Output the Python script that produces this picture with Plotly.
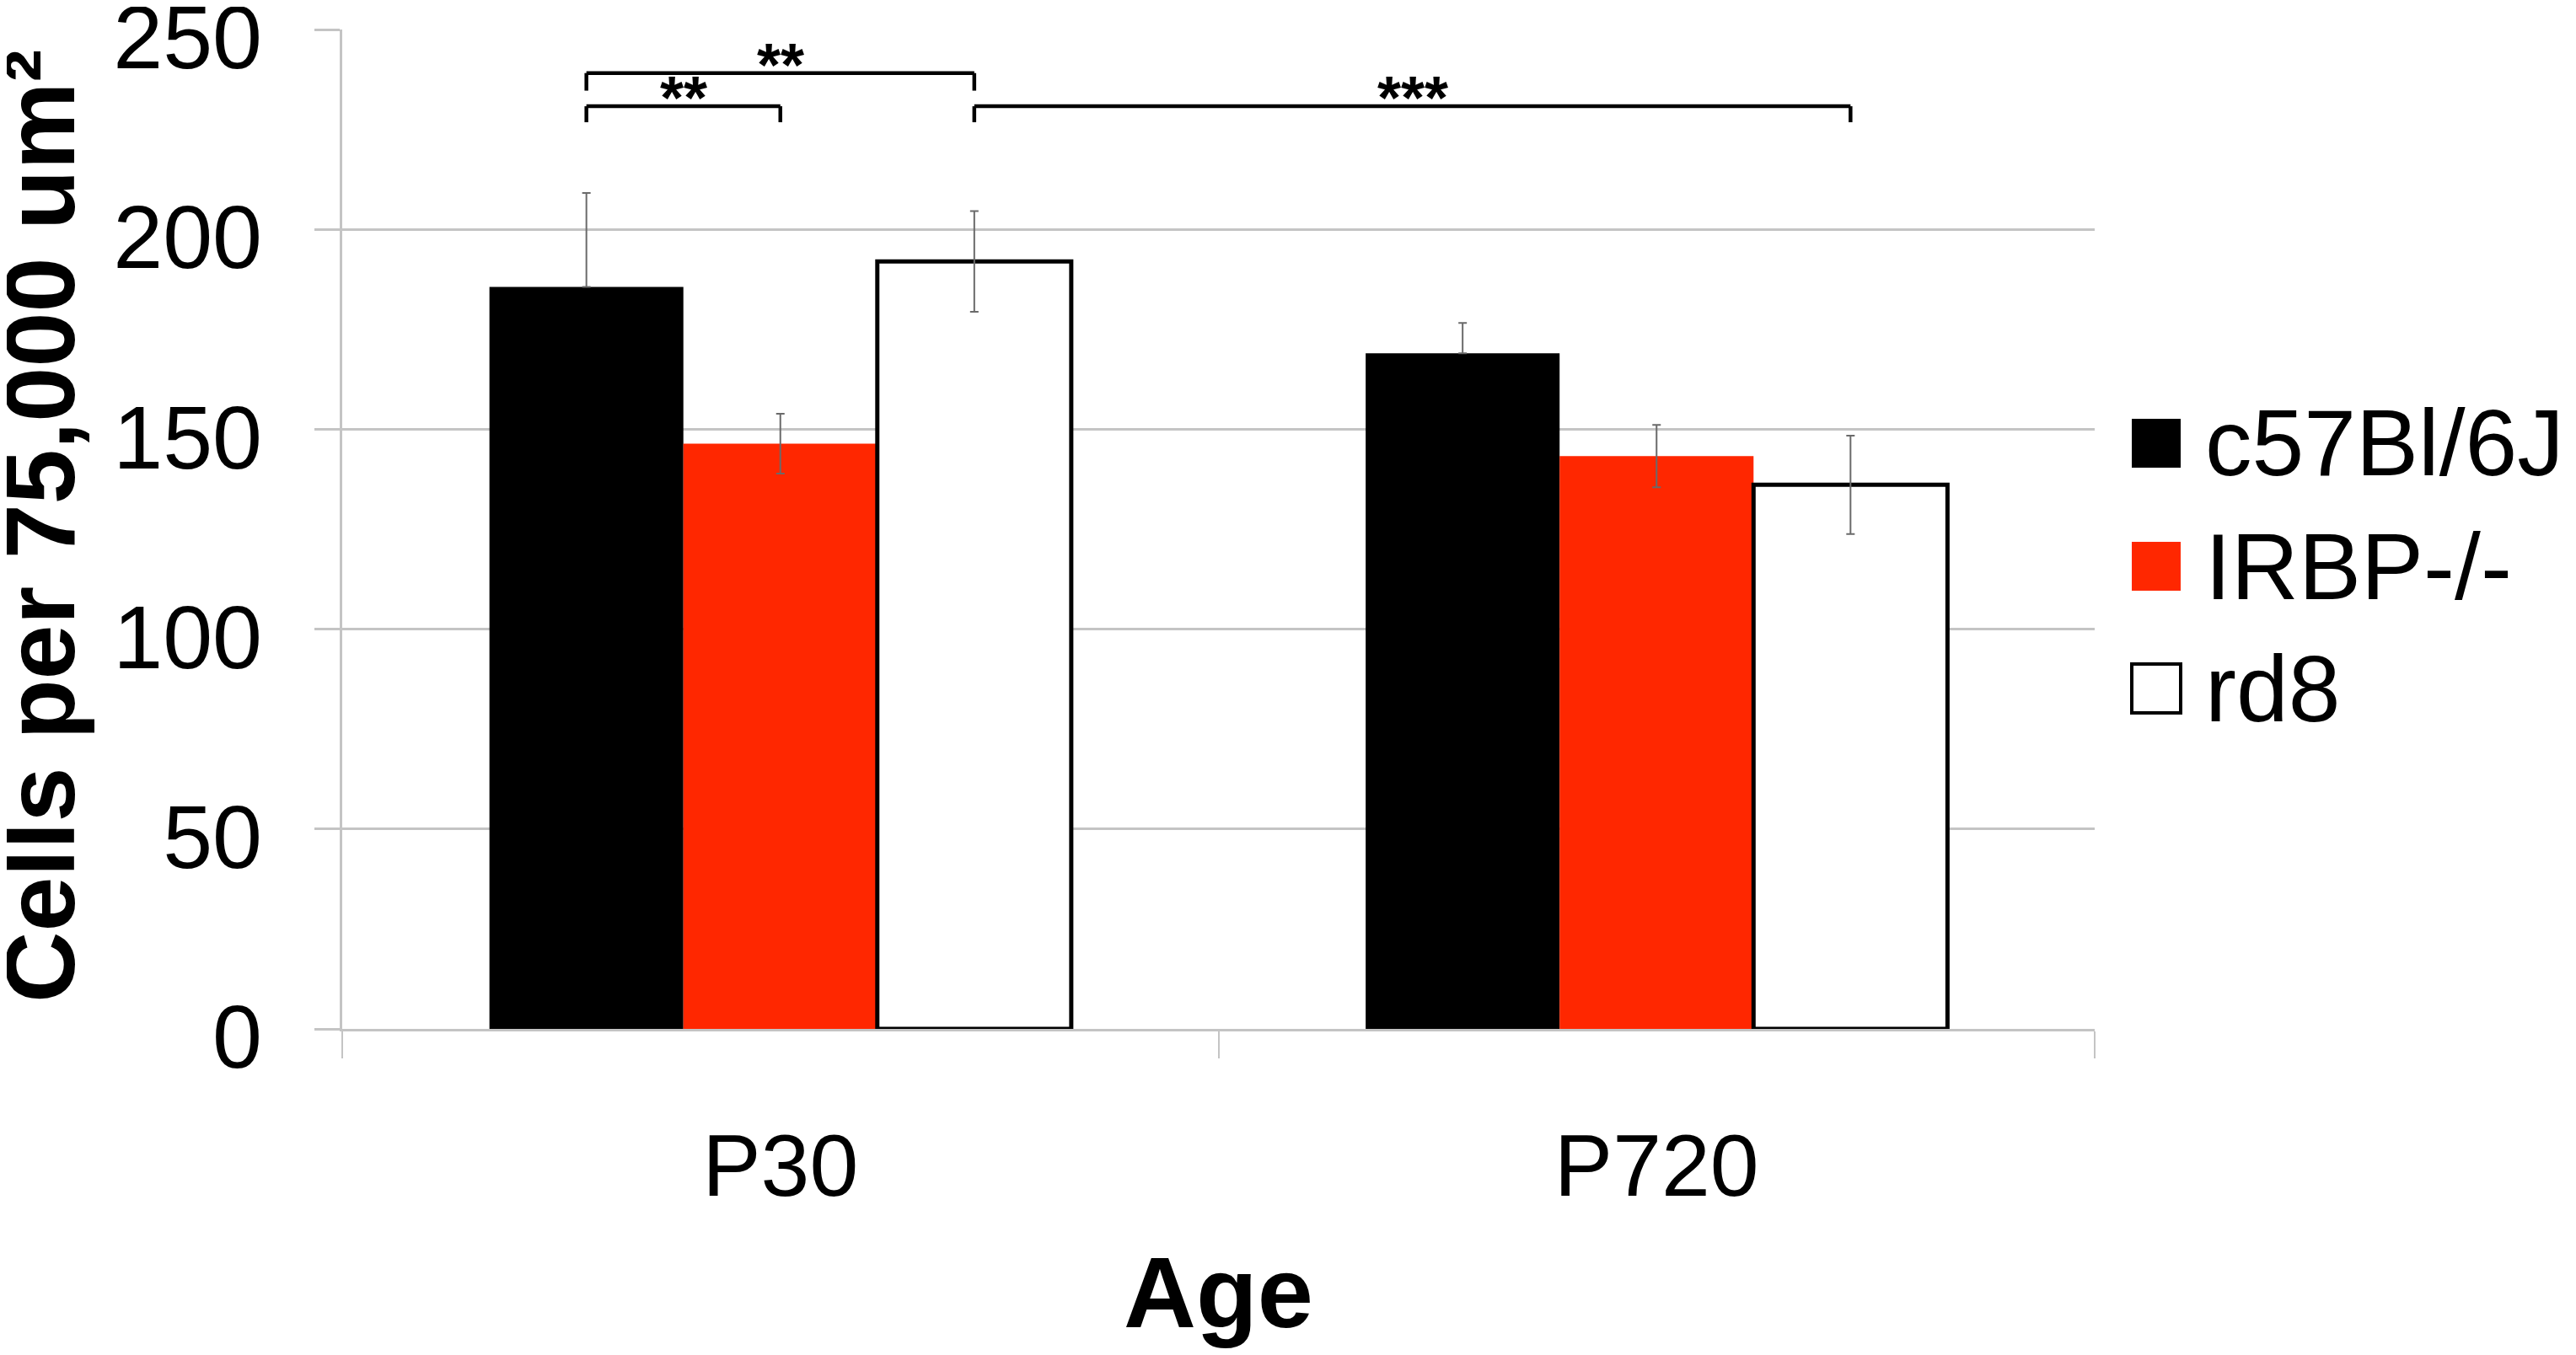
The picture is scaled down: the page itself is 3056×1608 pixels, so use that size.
import plotly.graph_objects as go

# ---------------- data ----------------
categories = ["P30", "P720"]
series_names = ["c57Bl/6J", "IRBP-/-", "rd8"]
c57_values = [185.6, 169.0]
c57_err = [23.5, 7.6]
irbp_values = [146.4, 143.3]
irbp_err = [7.5, 7.8]
rd8_values = [192.0, 136.1]
rd8_err = [12.6, 12.3]
y_ticks = [0, 50, 100, 150, 200, 250]
sig_labels = ["**", "**", "***"]
x_title = "Age"
y_title = "Cells per 75,000 um²"

# ---------------- layout constants ----------------
OFF = 8                      # page body margin
W, H = 3056 - 2 * OFF, 1608 - 2 * OFF
ML, MT = 406 - OFF, 35 - OFF
MR = W - (2485 - OFF)
MB = H - (1221 - OFF)
PW, PH = W - ML - MR, H - MT - MB
FONT = "Liberation Sans, Arial, sans-serif"
GRID = "#c4c4c4"
ERR = "#6a6a6a"
RED = "#ff2700"
BARGAP = 0.336
BW = (1 - BARGAP) / 3  # width of one bar in category units


def px_x(p):
    """page pixel -> paper x"""
    return (p - OFF - ML) / PW


def px_y(p):
    """page pixel -> paper y"""
    return (H - MB - (p - OFF)) / PH


fig = go.Figure()
fill_colors = ["black", RED, "white"]
line_colors = ["black", RED, "black"]
line_widths = [0, 0, 5]
vals = [c57_values, irbp_values, rd8_values]
errs = [c57_err, irbp_err, rd8_err]
minus_errs = [[0, 0], irbp_err, rd8_err]

for name, v, e, em, fc, lc, lw in zip(series_names, vals, errs, minus_errs,
                                       fill_colors, line_colors, line_widths):
    fig.add_trace(go.Bar(
        x=categories, y=v, name=name, showlegend=False,
        marker=dict(color=fc, line=dict(color=lc, width=lw)),
        error_y=dict(type="data", array=e, arrayminus=em, symmetric=False,
                     color=ERR, thickness=2, width=5),
    ))

# ---------------- significance brackets ----------------
def bar_pos(cat_idx, series_idx):
    return cat_idx + (series_idx - 1) * BW

brackets = [
    ((0, 0), (0, 1), 230.8, 4.0, sig_labels[0]),
    ((0, 0), (0, 2), 239.1, 4.4, sig_labels[1]),
    ((0, 2), (1, 2), 230.8, 4.0, sig_labels[2]),
]
shapes = []
annotations = []
for (a, b, yl, drop, lab) in brackets:
    x0 = bar_pos(*a)
    x1 = bar_pos(*b)
    ln = dict(color="black", width=4.5)
    shapes.append(dict(type="line", xref="x", yref="y", x0=x0, x1=x1, y0=yl, y1=yl, line=ln))
    shapes.append(dict(type="line", xref="x", yref="y", x0=x0, x1=x0, y0=yl, y1=yl - drop, line=ln))
    shapes.append(dict(type="line", xref="x", yref="y", x0=x1, x1=x1, y0=yl, y1=yl - drop, line=ln))
    annotations.append(dict(x=(x0 + x1) / 2, y=yl, xref="x", yref="y", text=lab,
                            showarrow=False, yanchor="bottom", yshift=-32,
                            font=dict(family=FONT, size=72, weight="bold", color="black")))

# ---------------- manual legend ----------------
leg_boxes = [(497, 555), (643, 701), (788, 846)]
leg_text_y = [526, 673, 818]
for name, fc, (yt, yb), ty in zip(series_names, fill_colors, leg_boxes, leg_text_y):
    shapes.append(dict(type="rect", xref="paper", yref="paper",
                       x0=px_x(2529), x1=px_x(2587), y0=px_y(yb), y1=px_y(yt),
                       fillcolor=fc, line=dict(color="black", width=4 if fc == "white" else 0)))
    annotations.append(dict(x=px_x(2614), y=px_y(ty), xref="paper", yref="paper",
                            text=name, showarrow=False, xanchor="left", yanchor="middle",
                            font=dict(family=FONT, size=111, color="black")))

# y-axis title as rotated annotation
annotations.append(dict(x=px_x(48), y=px_y(624), xref="paper", yref="paper",
                        text=y_title, textangle=-90, showarrow=False,
                        xanchor="center", yanchor="middle",
                        font=dict(family=FONT, size=117, weight="bold", color="black")))

fig.update_layout(
    width=W, height=H,
    margin=dict(l=ML, r=MR, t=MT, b=MB, pad=0),
    paper_bgcolor="white", plot_bgcolor="white",
    barmode="group", bargap=BARGAP, bargroupgap=0,
    font=dict(family=FONT, color="black"),
    shapes=shapes, annotations=annotations,
    showlegend=False,
)
fig.update_xaxes(
    type="category", showline=True, linecolor=GRID, linewidth=2.5,
    ticks="outside", tickson="boundaries", ticklen=32, tickwidth=2, tickcolor=GRID,
    tickfont=dict(family=FONT, size=104, color="black"), ticklabelstandoff=70,
    showgrid=False, automargin=False,
    title=dict(text=x_title, font=dict(family=FONT, size=119, weight="bold"), standoff=54),
)
fig.update_yaxes(
    range=[0, 250], tickvals=y_ticks, showgrid=True, gridcolor=GRID, gridwidth=2.5,
    showline=True, linecolor=GRID, linewidth=2.5, zeroline=False,
    ticks="outside", ticklen=30, tickwidth=2.5, tickcolor=GRID,
    tickfont=dict(family=FONT, size=106, color="black"), ticklabelstandoff=41,
    ticklabelshift=9, ticklabeloverflow="allow", automargin=False,
)

fig.write_html("out.html")
